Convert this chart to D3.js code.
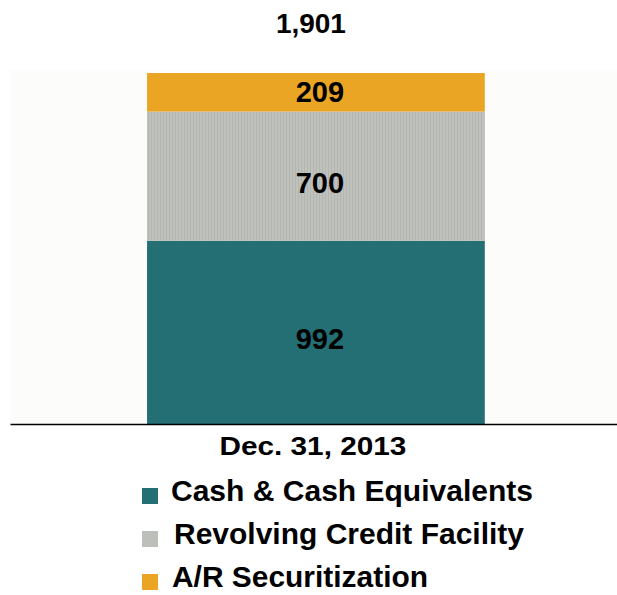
<!DOCTYPE html>
<html>
<head>
<meta charset="utf-8">
<script src="https://cdn.jsdelivr.net/npm/d3@7"></script>
<style>
  body { margin: 0; background: #fff; }
  svg { display: block; font-family: "Liberation Sans", Arial, sans-serif; }
</style>
</head>
<body>
<svg width="617" height="595"></svg>
<script>
// Chart data
var categories = ["Dec. 31, 2013"];
var seriesNames = ["Cash & Cash Equivalents", "Revolving Credit Facility", "A/R Securitization"];
var cashValues = [992];
var revolverValues = [700];
var arValues = [209];
var totalLabels = ["1,901"];

var colors = ["#236f74", "url(#stripes)", "#eaa524"];
var legendColors = ["#236f74", "#bdbfbb", "#eaa524"];
var labelShift = [7, 7, 0]; // labels sit a little below segment middle

var svg = d3.select("svg"),
  margin = { top: 73, right: 0, bottom: 171, left: 10 },
  width = +svg.attr("width") - margin.left - margin.right,
  height = +svg.attr("height") - margin.top - margin.bottom;

// stripe pattern for the grey segment
var defs = svg.append("defs");
var pat = defs.append("pattern")
  .attr("id", "stripes")
  .attr("patternUnits", "userSpaceOnUse")
  .attr("width", 3)
  .attr("height", 10);
pat.append("rect").attr("width", 3).attr("height", 10).attr("fill", "#bfc1bd");
pat.append("rect").attr("width", 1).attr("height", 10).attr("fill", "#b4b6b2");

var rows = categories.map(function (c, i) {
  return { cat: c, cash: cashValues[i], revolver: revolverValues[i], ar: arValues[i] };
});
var keys = ["cash", "revolver", "ar"];
var stacked = d3.stack().keys(keys)(rows);
var total = d3.max(rows, function (d) { return d.cash + d.revolver + d.ar; });

var xScale = d3.scaleBand().domain(categories).range([0, width])
  .paddingInner(0.285).paddingOuter(0.285).align(0.509);
var yScale = d3.scaleLinear().domain([0, total]).range([height, 0]);

var g = svg.append("g")
  .attr("transform", "translate(" + margin.left + "," + margin.top + ")");

// plot background
g.append("rect")
  .attr("y", -3)
  .attr("width", width)
  .attr("height", height + 3)
  .attr("fill", "#fcfcfa");

// bars
g.selectAll("g.layer")
  .data(stacked)
  .enter()
  .append("g")
  .attr("class", "layer")
  .attr("fill", function (d, i) { return colors[i]; })
  .selectAll("rect")
  .data(function (d) { return d; })
  .enter()
  .append("rect")
  .attr("x", function (d) { return xScale(d.data.cat); })
  .attr("y", function (d) { return yScale(d[1]); })
  .attr("width", xScale.bandwidth())
  .attr("height", function (d) { return yScale(d[0]) - yScale(d[1]); });

// segment value labels
stacked.forEach(function (layer, li) {
  layer.forEach(function (d) {
    g.append("text")
      .attr("x", xScale(d.data.cat) + xScale.bandwidth() / 2 + 4)
      .attr("y", (yScale(d[0]) + yScale(d[1])) / 2 + 10 + labelShift[li])
      .attr("text-anchor", "middle")
      .style("font-size", "29px")
      .style("font-weight", "bold")
      .attr("fill", "#000")
      .text(d[1] - d[0]);
  });
});

// total label
g.selectAll("text.total")
  .data(categories)
  .enter()
  .append("text")
  .attr("class", "total")
  .attr("x", function (d) { return xScale(d) + xScale.bandwidth() / 2 - 5; })
  .attr("y", yScale(total) - 40)
  .attr("text-anchor", "middle")
  .style("font-size", "28px")
  .style("font-weight", "bold")
  .text(function (d, i) { return totalLabels[i]; });

// x axis
var xAxis = g.append("g")
  .attr("transform", "translate(0," + height + ")")
  .call(d3.axisBottom(xScale).tickSize(0).tickPadding(13));
xAxis.select(".domain").attr("stroke", "#000").attr("stroke-width", 1.5);
xAxis.selectAll(".tick text")
  .attr("fill", "#000")
  .attr("dx", "-3")
  .style("font-family", "'Liberation Sans', Arial, sans-serif")
  .style("font-size", "26px")
  .style("font-weight", "bold")
  .attr("textLength", 187)
  .attr("lengthAdjust", "spacingAndGlyphs");

// legend
var legendY = [488, 531, 574];
var legendTextX = [171, 174, 172];
var legendLen = [362, 350, 256];
var legend = svg.append("g");
seriesNames.forEach(function (name, i) {
  legend.append("rect")
    .attr("x", 142)
    .attr("y", legendY[i])
    .attr("width", 16)
    .attr("height", 16)
    .attr("fill", legendColors[i]);
  legend.append("text")
    .attr("x", legendTextX[i])
    .attr("y", legendY[i] + 13)
    .style("font-size", "29px")
    .style("font-weight", "bold")
    .attr("textLength", legendLen[i])
    .attr("lengthAdjust", "spacingAndGlyphs")
    .text(name);
});
</script>
</body>
</html>
